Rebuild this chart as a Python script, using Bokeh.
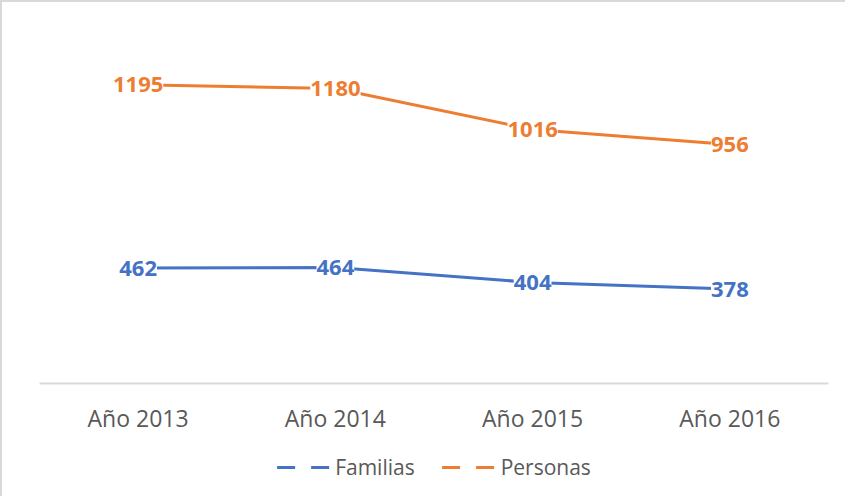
from bokeh.plotting import figure
from bokeh.layouts import column
from bokeh.models import FactorRange, Range1d, Legend, LegendItem, ColumnDataSource
from bokeh.core.properties import value
from bokeh.embed import file_html
from bokeh.resources import INLINE

years = ["Año 2013", "Año 2014", "Año 2015", "Año 2016"]
familias = [462, 464, 404, 378]
personas = [1195, 1180, 1016, 956]

BLUE = "#4472C4"
ORANGE = "#ED7D31"

p = figure(width=843, height=436, x_range=FactorRange(*years, range_padding=0),
           y_range=Range1d(0, 1400), output_backend="svg", toolbar_location=None,
           min_border_left=37, min_border_right=17, min_border_top=31, min_border_bottom=55)
p.outline_line_color = None
p.xgrid.grid_line_color = None
p.ygrid.grid_line_color = None
p.yaxis.visible = False

ax = p.xaxis[0]
ax.axis_line_color = "#d9d9d9"
ax.axis_line_width = 2
ax.major_tick_line_color = None
ax.minor_tick_line_color = None
ax.major_label_text_font = "Open Sans"
ax.major_label_text_font_size = "23px"
ax.major_label_text_color = "#595959"
ax.major_label_standoff = 12

src_f = ColumnDataSource(dict(x=years, y=familias, t=[str(v) for v in familias]))
src_p = ColumnDataSource(dict(x=years, y=personas, t=[str(v) for v in personas]))

p.line("x", "y", source=src_f, line_color=BLUE, line_width=3)
p.line("x", "y", source=src_p, line_color=ORANGE, line_width=3)

for src, col in ((src_f, BLUE), (src_p, ORANGE)):
    p.text("x", "y", text="t", source=src, text_font=value("Open Sans"),
           text_font_style="bold", text_font_size="22px", text_color=col,
           text_align="center", text_baseline="middle",
           background_fill_color="white")

# legend strip below the chart
q = figure(width=843, height=58, x_range=FactorRange(*years, range_padding=0),
           y_range=Range1d(5000, 6000), output_backend="svg", toolbar_location=None,
           min_border_left=37, min_border_right=17, min_border_top=0, min_border_bottom=0)
q.outline_line_color = None
q.axis.visible = False
q.grid.grid_line_color = None
lf = q.line("x", "y", source=src_f, line_color=BLUE, line_width=3, line_dash="18 16")
lp = q.line("x", "y", source=src_p, line_color=ORANGE, line_width=3, line_dash="18 16")

legend = Legend(items=[LegendItem(label="Familias", renderers=[lf]),
                       LegendItem(label="Personas", renderers=[lp])],
                orientation="horizontal", location="center",
                glyph_width=54, glyph_height=20, label_standoff=5, spacing=27,
                label_text_font="Open Sans", label_text_font_size="21px",
                label_text_color="#595959", border_line_color=None,
                background_fill_alpha=0, margin=0, padding=2)
q.add_layout(legend)

layout = column(p, q, spacing=0,
                styles={"border-top": "2px solid #d9d9d9", "border-left": "2px solid #d9d9d9"})
open("out.html", "w").write(file_html(layout, INLINE))
